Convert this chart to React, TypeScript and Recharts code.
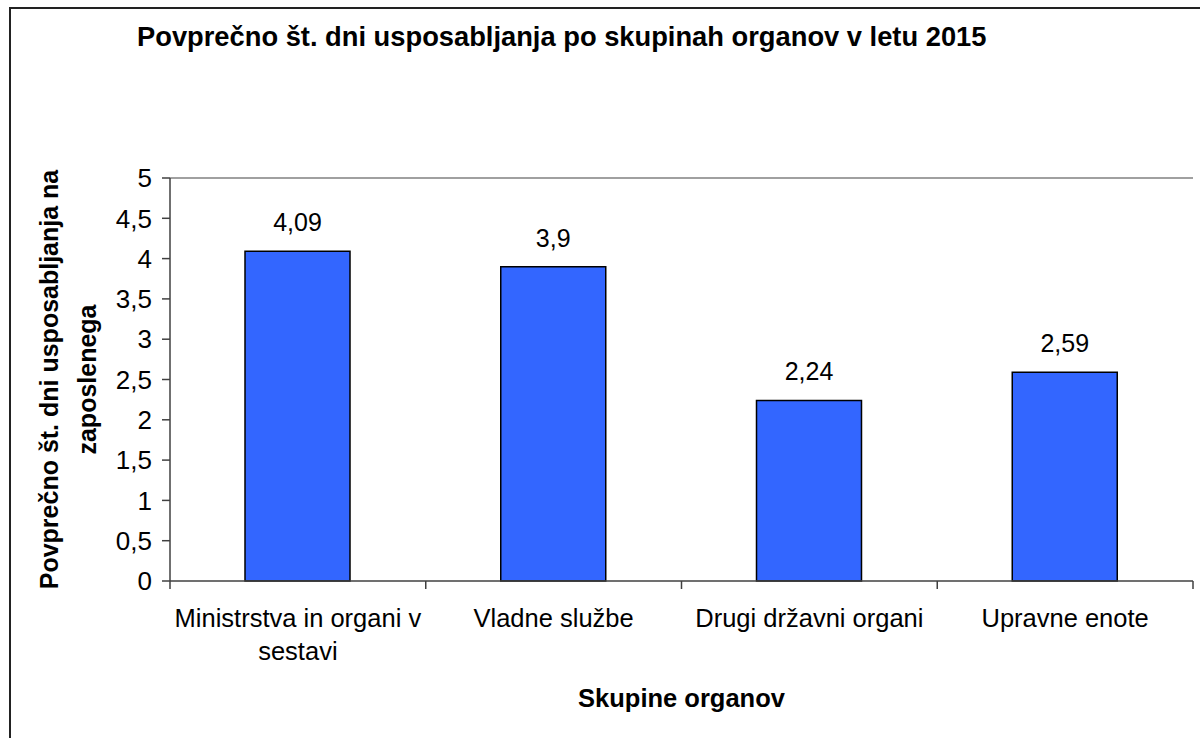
import React from 'react';
import { BarChart, Bar, XAxis, YAxis, LabelList, ReferenceLine } from 'recharts';

const categories = [
  'Ministrstva in organi v sestavi',
  'Vladne službe',
  'Drugi državni organi',
  'Upravne enote',
];
// how the category labels wrap under the axis
const categoryLines = [
  ['Ministrstva in organi v', 'sestavi'],
  ['Vladne službe'],
  ['Drugi državni organi'],
  ['Upravne enote'],
];
const values = [4.09, 3.9, 2.24, 2.59];
const yTicks = [0, 0.5, 1, 1.5, 2, 2.5, 3, 3.5, 4, 4.5, 5];

const title = 'Povprečno št. dni usposabljanja po skupinah organov v letu 2015';
const yTitleLines = ['Povprečno št. dni usposabljanja na', 'zaposlenega'];
const xTitle = 'Skupine organov';

const data = categories.map((name, i) => ({ name, value: values[i] }));

const W = 1200;
const H = 738;
const PLOT = { left: 170, right: 1193, top: 178, bottom: 581 };
const Y_AXIS_W = 80;
const X_AXIS_H = 60;
const FONT = '"Liberation Sans", Arial, sans-serif';
const AXIS = '#404040';

const comma = (v: number | string) => String(v).replace('.', ',');

function CategoryTick(props: any) {
  const { x, payload } = props;
  const idx = categories.indexOf(payload.value);
  const half = (PLOT.right - PLOT.left) / categories.length / 2;
  const lines = categoryLines[idx] ?? [payload.value];
  return (
    <g>
      <line x1={x - half} x2={x - half} y1={PLOT.bottom} y2={PLOT.bottom + 8} stroke={AXIS} strokeWidth={1.5} />
      {idx === categories.length - 1 && (
        <line x1={x + half} x2={x + half} y1={PLOT.bottom} y2={PLOT.bottom + 8} stroke={AXIS} strokeWidth={1.5} />
      )}
      <text textAnchor="middle" fontSize={25.5} fill="#000" fontFamily={FONT}>
        {lines.map((l, i) => (
          <tspan key={i} x={x} y={PLOT.bottom + 46 + i * 33}>
            {l}
          </tspan>
        ))}
      </text>
    </g>
  );
}

const YTitle = () => (
  <text
    transform={`translate(0, ${(PLOT.top + PLOT.bottom) / 2}) rotate(-90)`}
    textAnchor="middle"
    fontWeight="bold"
    fontSize={25}
    fill="#000"
    fontFamily={FONT}
  >
    <tspan x={0} y={58}>{yTitleLines[0]}</tspan>
    <tspan x={0} y={96}>{yTitleLines[1]}</tspan>
  </text>
);

const XTitle = () => (
  <text
    x={(PLOT.left + PLOT.right) / 2}
    y={707}
    textAnchor="middle"
    fontWeight="bold"
    fontSize={25.5}
    fill="#000"
    fontFamily={FONT}
  >
    {xTitle}
  </text>
);

export default function App() {
  return (
    <div style={{ position: 'fixed', left: 0, top: 0, width: W, height: H, overflow: 'hidden', background: '#fff' }}>
      <div
        style={{
          position: 'absolute',
          left: 9,
          top: 7,
          width: W + 100,
          height: H + 100,
          borderLeft: '2px solid #222',
          borderTop: '2px solid #222',
        }}
      />
      <svg width={W} height={60} style={{ position: 'absolute', left: 0, top: 0 }}>
        <text x={137} y={46} fontWeight="bold" fontSize={27.3} fill="#000" fontFamily={FONT}>
          {title}
        </text>
      </svg>
      <div style={{ position: 'absolute', left: 0, top: 0 }}>
        <BarChart
          width={W}
          height={H}
          data={data}
          margin={{
            top: PLOT.top,
            right: W - PLOT.right,
            bottom: H - PLOT.bottom - X_AXIS_H,
            left: PLOT.left - Y_AXIS_W,
          }}
          barSize={105}
        >
          <XAxis
            dataKey="name"
            height={X_AXIS_H}
            tickLine={false}
            axisLine={{ stroke: AXIS, strokeWidth: 1.5 }}
            tick={<CategoryTick />}
            interval={0}
            label={{ content: <XTitle /> }}
          />
          <YAxis
            width={Y_AXIS_W}
            domain={[0, 5]}
            ticks={yTicks}
            interval={0}
            tickFormatter={comma}
            tickSize={8}
            tickMargin={10}
            tickLine={{ stroke: AXIS, strokeWidth: 1.5 }}
            axisLine={{ stroke: AXIS, strokeWidth: 1.5 }}
            tick={{ fontSize: 26, fill: '#000', fontFamily: FONT }}
            label={{ content: <YTitle /> }}
          />
          <YAxis
            yAxisId="right"
            orientation="right"
            width={0}
            domain={[0, 5]}
            tick={false}
            tickLine={false}
            axisLine={{ stroke: '#808080', strokeWidth: 1.5 }}
          />
          <ReferenceLine y={5} stroke="#808080" strokeWidth={1.5} />
          <Bar dataKey="value" fill="#3366FF" stroke="#000" strokeWidth={1.5} isAnimationActive={false}>
            <LabelList
              dataKey="value"
              position="top"
              offset={20}
              formatter={comma}
              style={{ fontSize: 25, fill: '#000', fontFamily: FONT }}
            />
          </Bar>
        </BarChart>
      </div>
    </div>
  );
}
